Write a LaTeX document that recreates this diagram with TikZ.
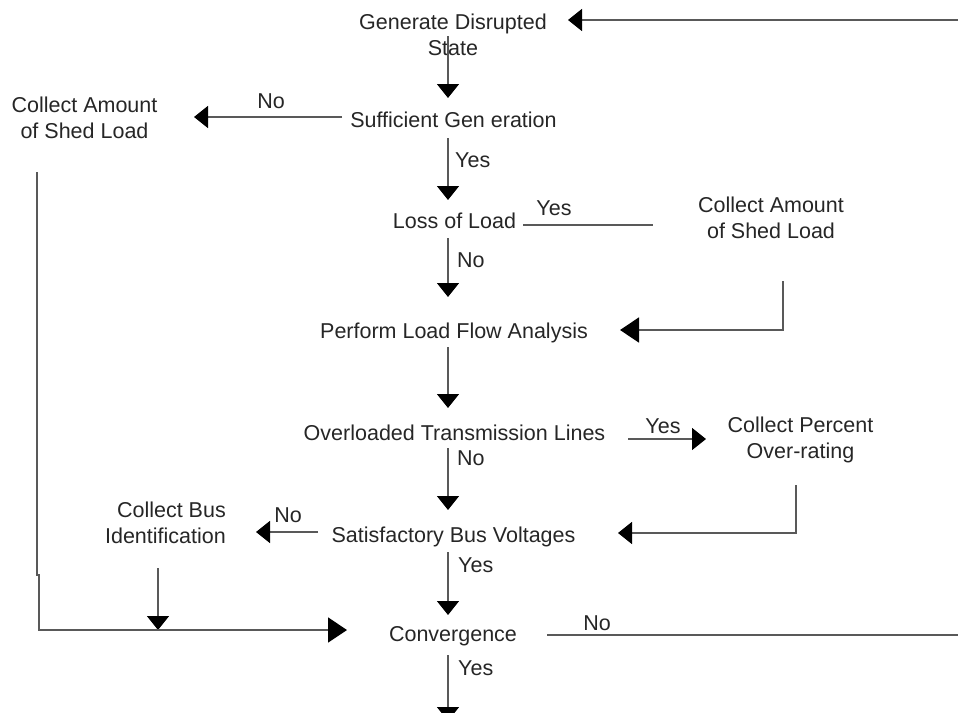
\documentclass[tikz,border=0pt]{standalone}
\usepackage{fontspec}
\setmainfont{Liberation Sans}
\usetikzlibrary{arrows.meta}
\tikzset{
  lbl/.style={inner sep=0pt, font=\fontsize{21.5}{26}\selectfont, anchor=base, text=black!85},
  two/.style={lbl, align=center},
  conn/.style={draw=black!65, line width=1.6pt},
  arr/.style={conn, -{Triangle[width=22pt,length=14pt,color=black]}},
  bigarr/.style={conn, -{Triangle[width=25pt,length=19pt,color=black]}}
}
\begin{document}
\begin{tikzpicture}[x=1pt,y=-1pt]
\useasboundingbox (0,0) rectangle (958,712);
% main column (base = last line's baseline)
\node[two] (gen) at (453,55) {Generate Disrupted\\State};
\node[lbl] (suff) at (453.5,127) {Sufficient Gen eration};
\node[lbl] (loss) at (454.5,228) {Loss of Load};
\node[lbl] (perf) at (454,338) {Perform Load Flow Analysis};
\node[lbl] (over) at (454.5,440) {Overloaded Transmission Lines};
\node[lbl] (sat) at (453.5,542) {Satisfactory Bus Voltages};
\node[lbl] (conv) at (453,641) {Convergence};
% side boxes
\node[two] (cl) at (84.5,138) {Collect Amount\\of Shed Load};
\node[two] (cr) at (771,238) {Collect Amount\\of Shed Load};
\node[two] (cp) at (800.5,458) {Collect Percent\\Over-rating};
\node[lbl, align=right, anchor=base east] (cb) at (226,543) {Collect Bus\\Identification};
% labels
\node[lbl] (l1) at (271,108) {No};
\node[lbl, anchor=base west] (l2) at (455,167) {Yes};
\node[lbl] (l3) at (554,215) {Yes};
\node[lbl, anchor=base west] (l4) at (457,267) {No};
\node[lbl] (l5) at (663,433) {Yes};
\node[lbl, anchor=base west] (l6) at (457,465) {No};
\node[lbl] (l7) at (288,522) {No};
\node[lbl, anchor=base west] (l8) at (458,572) {Yes};
\node[lbl] (l9) at (597,630) {No};
\node[lbl, anchor=base west] (l10) at (458,675) {Yes};
% free ends
\coordinate (tr) at (958,20);
\coordinate (br) at (958,635);
\coordinate (endc) at (448,721);
\coordinate (join) at (158,630);
% vertical flow
\draw[arr] ([shift={(-5,-19)}]gen.base) -- ([shift={(-5.5,-29)}]suff.base);
\draw[arr] ([shift={(-5.5,11)}]suff.base) -- ([shift={(-6.5,-28)}]loss.base);
\draw[arr] ([shift={(-6.5,10)}]loss.base) -- ([shift={(-6,-41)}]perf.base);
\draw[arr] ([shift={(-6,9)}]perf.base) -- ([shift={(-6.5,-32)}]over.base);
\draw[arr] ([shift={(-6.5,8)}]over.base) -- ([shift={(-5.5,-32)}]sat.base);
\draw[arr] ([shift={(-5.5,10)}]sat.base) -- ([shift={(-5,-26)}]conv.base);
\draw[arr] ([shift={(-5,14)}]conv.base) -- (endc);
% loop back
\draw[arr] (tr) -- ([shift={(115,-35)}]gen.base);
\draw[conn] ([shift={(94,-6)}]conv.base) -- (br);
% branches
\draw[arr] ([shift={(-111.5,-10)}]suff.base) -- ([shift={(109.5,-21)}]cl.base);
\draw[conn] ([shift={(68.5,-3)}]loss.base) -- ([shift={(-118,-13)}]cr.base);
\draw[bigarr] ([shift={(12,43)}]cr.base) |- ([shift={(166,-8)}]perf.base);
\draw[arr] ([shift={(173.5,-1)}]over.base) -- ([shift={(-94.5,-19)}]cp.base);
\draw[arr] ([shift={(-4.5,27)}]cp.base) |- ([shift={(164.5,-9)}]sat.base);
\draw[arr] ([shift={(-135.5,-10)}]sat.base) -- ([shift={(30,-11)}]cb.base east);
\draw[arr] ([shift={(-68,25)}]cb.base east) -- (join);
\draw[bigarr] ([shift={(-47.5,34)}]cl.base) -- ++(0,403) -- ++(2,0) -- ++(0,55) -- ([shift={(-106,-11)}]conv.base);
\end{tikzpicture}
\end{document}
